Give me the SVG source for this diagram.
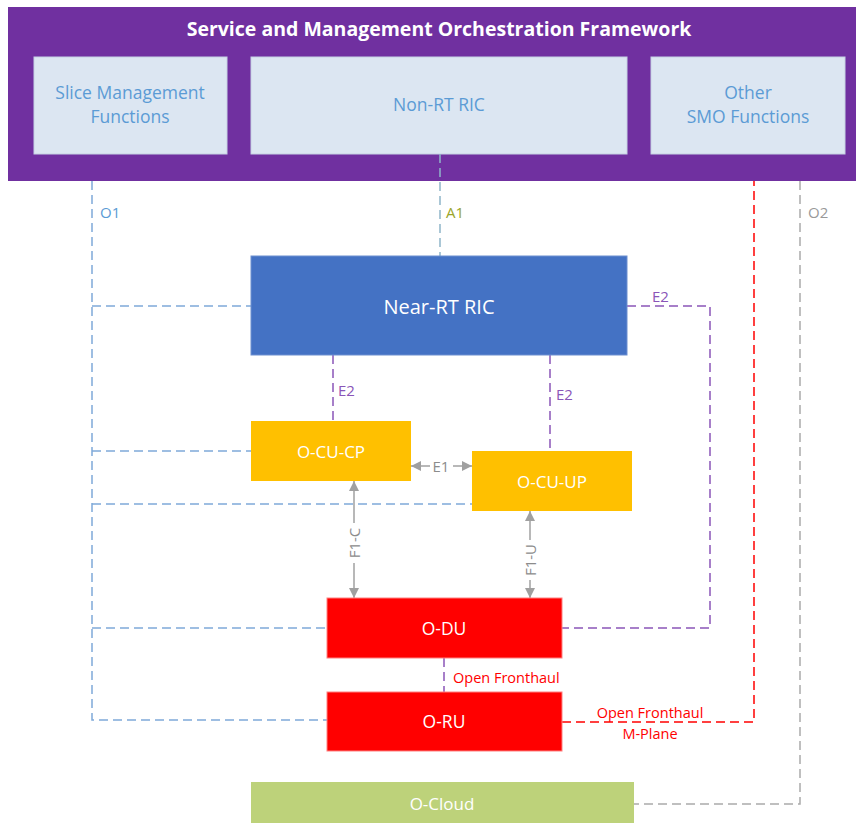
<svg xmlns="http://www.w3.org/2000/svg" width="856" height="823" viewBox="0 0 856 823">
<style>
text{font-family:"Open Sans","Liberation Sans",sans-serif;}
.lbl{fill:#ffffff;text-anchor:middle;dominant-baseline:central;}
.inner{fill:#dce6f2;stroke:#c6d2e3;stroke-width:1;}
.innert{fill:#5b9bd5;font-size:17.5px;text-anchor:middle;}
.o1{stroke:#7fa9d9;stroke-width:1.5;stroke-dasharray:9 5;fill:none;}
.a1{stroke:#8fb5c9;stroke-width:1.5;stroke-dasharray:9 5;fill:none;}
.e2{stroke:#8a55b8;stroke-width:1.5;stroke-dasharray:9 5;fill:none;}
.red{stroke:#ff0000;stroke-width:1.5;stroke-dasharray:9 5;fill:none;}
.gray{stroke:#aaaaaa;stroke-width:1.5;stroke-dasharray:9 5;fill:none;}
.arr{stroke:#a0a0a0;stroke-width:1.5;fill:none;marker-start:url(#ah);marker-end:url(#ah);}
</style>
<defs>
<marker id="ah" viewBox="0 0 10 10" refX="10" refY="5" markerWidth="10" markerHeight="10" markerUnits="userSpaceOnUse" orient="auto-start-reverse">
<path d="M0,0 L10,5 L0,10 z" fill="#a0a0a0"/>
</marker>
</defs>

<g id="smo">
<rect x="8" y="7" width="848" height="174" fill="#7030a0"/>
<text x="439" y="28" fill="#ffffff" font-weight="bold" font-size="19.5" text-anchor="middle" dominant-baseline="central">Service and Management Orchestration Framework</text>
</g>
<g id="slice">
<rect class="inner" x="34" y="57" width="193" height="97"/>
<text class="innert" x="130" y="99">Slice Management</text>
<text class="innert" x="130" y="123">Functions</text>
</g>
<g id="nonrt">
<rect class="inner" x="251" y="57" width="376" height="97"/>
<text class="innert" x="439" y="111">Non-RT RIC</text>
</g>
<g id="othersmo">
<rect class="inner" x="651" y="57" width="194" height="97"/>
<text class="innert" x="748" y="99">Other</text>
<text class="innert" x="748" y="123">SMO Functions</text>
</g>

<g id="connectors">
<path class="a1" d="M440,154 V256"/>
<path class="o1" d="M92,181 V720 H327"/>
<path class="o1" d="M92,306 H251"/>
<path class="o1" d="M92,451 H251"/>
<path class="o1" d="M92,504 H472"/>
<path class="o1" d="M92,628 H327"/>
<path class="e2" d="M333,355 V421"/>
<path class="e2" d="M550,355 V451"/>
<path class="e2" d="M627,306 H710 V628 H562"/>
<path class="e2" d="M444,658 V692"/>
<path class="red" d="M562,722 H754 V181"/>
<path class="gray" d="M800,181 V804 H634"/>
<path class="arr" d="M411,466 H472"/>
<path class="arr" d="M354,481 V598"/>
<path class="arr" d="M530,511 V598"/>
<rect x="430" y="458" width="23" height="16" fill="#ffffff"/>
<text x="441" y="466" fill="#8c8c8c" font-size="15" text-anchor="middle" dominant-baseline="central">E1</text>
<rect x="346" y="523" width="16" height="40" fill="#ffffff"/>
<text x="354" y="543" fill="#8c8c8c" font-size="15" text-anchor="middle" dominant-baseline="central" transform="rotate(-90 354 543)">F1-C</text>
<rect x="522" y="540" width="16" height="40" fill="#ffffff"/>
<text x="530" y="560" fill="#8c8c8c" font-size="15" text-anchor="middle" dominant-baseline="central" transform="rotate(-90 530 560)">F1-U</text>
<text x="100" y="212" fill="#5b9bd5" font-size="15" dominant-baseline="central">O1</text>
<text x="446" y="212" fill="#9aa52a" font-size="15" dominant-baseline="central">A1</text>
<text x="808" y="212" fill="#999999" font-size="15" dominant-baseline="central">O2</text>
<text x="338" y="390" fill="#8a55b8" font-size="15" dominant-baseline="central">E2</text>
<text x="556" y="394" fill="#8a55b8" font-size="15" dominant-baseline="central">E2</text>
<text x="652" y="296" fill="#8a55b8" font-size="15" dominant-baseline="central">E2</text>
<text x="453" y="677" fill="#ff0000" font-size="14.5" dominant-baseline="central">Open Fronthaul</text>
<text x="650" y="712" fill="#ff0000" font-size="14.5" text-anchor="middle" dominant-baseline="central">Open Fronthaul</text>
<text x="650" y="733" fill="#ff0000" font-size="14.5" text-anchor="middle" dominant-baseline="central">M-Plane</text>
</g>

<g id="nearrt">
<rect x="251" y="256" width="376" height="99" fill="#4472c4" stroke="#6d8fd0" stroke-width="1"/>
<text class="lbl" x="439" y="306" font-size="20">Near-RT RIC</text>
</g>
<g id="ocucp">
<rect x="251" y="421" width="160" height="60" fill="#ffc000"/>
<text class="lbl" x="331" y="451" font-size="17">O-CU-CP</text>
</g>
<g id="ocuup">
<rect x="472" y="451" width="160" height="60" fill="#ffc000"/>
<text class="lbl" x="552" y="481" font-size="17">O-CU-UP</text>
</g>
<g id="odu">
<rect x="327" y="598" width="235" height="60" fill="#ff0000" stroke="#ff8080" stroke-width="1"/>
<text class="lbl" x="444" y="628" font-size="17.5">O-DU</text>
</g>
<g id="oru">
<rect x="327" y="692" width="235" height="59" fill="#ff0000" stroke="#ff8080" stroke-width="1"/>
<text class="lbl" x="444" y="721" font-size="17.5">O-RU</text>
</g>
<g id="ocloud">
<rect x="251" y="782" width="383" height="41" fill="#bdd27a"/>
<text class="lbl" x="442" y="803" font-size="17">O-Cloud</text>
</g>
</svg>
